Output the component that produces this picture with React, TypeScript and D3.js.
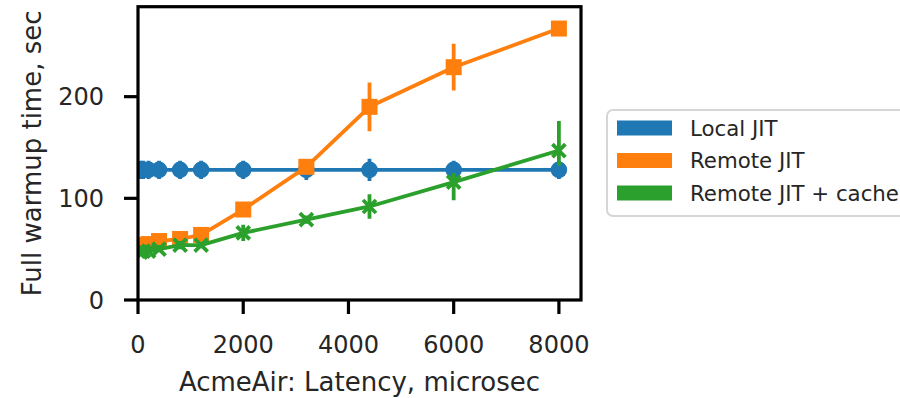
import React, { useRef, useEffect } from 'react';
import * as d3 from 'd3';

const latency = [50, 100, 200, 400, 800, 1200, 2000, 3200, 4400, 6000, 8000];

const localMean = [128, 128, 128, 128, 128, 128, 128, 128, 128, 128, 128];
const localLow = [119, 119, 119, 119, 119, 119, 119, 118, 117, 119, 119];
const localHigh = [137, 137, 137, 137, 137, 137, 137, 138, 139, 137, 137];

const remoteMean = [53, 54, 55, 58, 60, 64, 89, 131, 190, 229, 267];
const remoteLow = [50, 51, 52, 55, 57, 60, 85, 124, 166, 206, 262];
const remoteHigh = [56, 57, 58, 61, 63, 68, 93, 138, 214, 252, 272];

const cacheMean = [47, 48, 48, 50, 54, 54, 66, 79, 92, 116, 147];
const cacheLow = [44, 45, 45, 47, 50, 51, 58, 75, 80, 98, 132];
const cacheHigh = [52, 52, 52, 54, 58, 57, 74, 83, 104, 125, 176];

const seriesNames = ['Local JIT', 'Remote JIT', 'Remote JIT + cache'];
const seriesColors = ['#1f77b4', '#ff7f0e', '#2ca02c'];
const xTicks = [0, 2000, 4000, 6000, 8000];
const yTicks = [0, 100, 200];

const FONT = '"DejaVu Sans", sans-serif';

const Chart = () => {
  const ref = useRef<SVGSVGElement | null>(null);

  useEffect(() => {
    const svg = d3.select(ref.current);
    svg.selectAll('*').remove();

    const left = 138, right = 581, top = 6.7, bottom = 300;
    const x = d3.scaleLinear().domain([0, 8420]).range([left, right]);
    const y = d3.scaleLinear().domain([0, 288.5]).range([bottom, top]);

    const series = [
      { mean: localMean, low: localLow, high: localHigh, marker: 'circle' },
      { mean: remoteMean, low: remoteLow, high: remoteHigh, marker: 'square' },
      { mean: cacheMean, low: cacheLow, high: cacheHigh, marker: 'x' },
    ];

    svg.append('defs').append('clipPath').attr('id', 'plotclip')
      .append('rect')
      .attr('x', left).attr('y', top)
      .attr('width', right - left).attr('height', bottom - top);

    const plot = svg.append('g').attr('clip-path', 'url(#plotclip)');

    const line = d3.line<number>()
      .x((d, i) => x(latency[i]))
      .y(d => y(d));

    series.forEach((s, si) => {
      const color = seriesColors[si];
      const g = plot.append('g');

      g.append('path')
        .datum(s.mean)
        .attr('fill', 'none')
        .attr('stroke', color)
        .attr('stroke-width', 3.8)
        .attr('stroke-linejoin', 'round')
        .attr('d', line);

      g.selectAll('line.err')
        .data(latency)
        .enter()
        .append('line')
        .attr('class', 'err')
        .attr('x1', d => x(d))
        .attr('x2', d => x(d))
        .attr('y1', (d, i) => y(s.low[i]))
        .attr('y2', (d, i) => y(s.high[i]))
        .attr('stroke', color)
        .attr('stroke-width', 3.8);

      const pts = g.selectAll('g.pt')
        .data(latency)
        .enter()
        .append('g')
        .attr('class', 'pt')
        .attr('transform', (d, i) => `translate(${x(d)},${y(s.mean[i])})`);

      if (s.marker === 'circle') {
        pts.append('circle').attr('r', 8.3).attr('fill', color);
      } else if (s.marker === 'square') {
        pts.append('rect')
          .attr('x', -8).attr('y', -8)
          .attr('width', 16).attr('height', 16)
          .attr('fill', color);
      } else {
        pts.append('path')
          .attr('d', 'M-6.5,-6.5L6.5,6.5M-6.5,6.5L6.5,-6.5')
          .attr('stroke', color)
          .attr('stroke-width', 3.8)
          .attr('fill', 'none');
      }
    });

    // spines
    svg.append('rect')
      .attr('x', left).attr('y', top)
      .attr('width', right - left).attr('height', bottom - top)
      .attr('fill', 'none')
      .attr('stroke', '#000')
      .attr('stroke-width', 3.2);

    // x ticks
    const xt = svg.append('g');
    xTicks.forEach(t => {
      xt.append('line')
        .attr('x1', x(t)).attr('x2', x(t))
        .attr('y1', bottom).attr('y2', bottom + 14)
        .attr('stroke', '#000').attr('stroke-width', 3.2);
      xt.append('text')
        .attr('x', x(t)).attr('y', 353)
        .attr('text-anchor', 'middle')
        .attr('font-family', FONT).attr('font-size', 24)
        .attr('fill', '#262626')
        .text(String(t));
    });

    // y ticks
    const yt = svg.append('g');
    yTicks.forEach(t => {
      yt.append('line')
        .attr('x1', left - 14).attr('x2', left)
        .attr('y1', y(t)).attr('y2', y(t))
        .attr('stroke', '#000').attr('stroke-width', 3.2);
      yt.append('text')
        .attr('x', 104).attr('y', y(t))
        .attr('dy', '0.36em')
        .attr('text-anchor', 'end')
        .attr('font-family', FONT).attr('font-size', 24)
        .attr('fill', '#262626')
        .text(String(t));
    });

    svg.append('text')
      .attr('x', (left + right) / 2).attr('y', 391)
      .attr('text-anchor', 'middle')
      .attr('font-family', FONT).attr('font-size', 26)
      .attr('fill', '#262626')
      .text('AcmeAir: Latency, microsec');

    svg.append('text')
      .attr('transform', `translate(41,${(top + bottom) / 2}) rotate(-90)`)
      .attr('text-anchor', 'middle')
      .attr('font-family', FONT).attr('font-size', 26)
      .attr('fill', '#262626')
      .text('Full warmup time, sec');

    // legend
    const lg = svg.append('g');
    lg.append('rect')
      .attr('x', 607).attr('y', 110)
      .attr('width', 320).attr('height', 106)
      .attr('rx', 6)
      .attr('fill', '#fff')
      .attr('stroke', '#d6d6d6')
      .attr('stroke-width', 2);

    seriesNames.forEach((name, i) => {
      const cy = 128 + i * 32.5;
      lg.append('rect')
        .attr('x', 617).attr('y', cy - 7.5)
        .attr('width', 55).attr('height', 15)
        .attr('fill', seriesColors[i]);
      lg.append('text')
        .attr('x', 690).attr('y', cy + 7.8)
        .attr('font-family', FONT).attr('font-size', 21.3)
        .attr('fill', '#262626')
        .text(name);
    });
  }, []);

  return (
    <svg
      ref={ref}
      width={900}
      height={398}
      style={{ position: 'absolute', left: 0, top: 0, background: '#fff' }}
    />
  );
};

export default function App() {
  return <Chart />;
}
